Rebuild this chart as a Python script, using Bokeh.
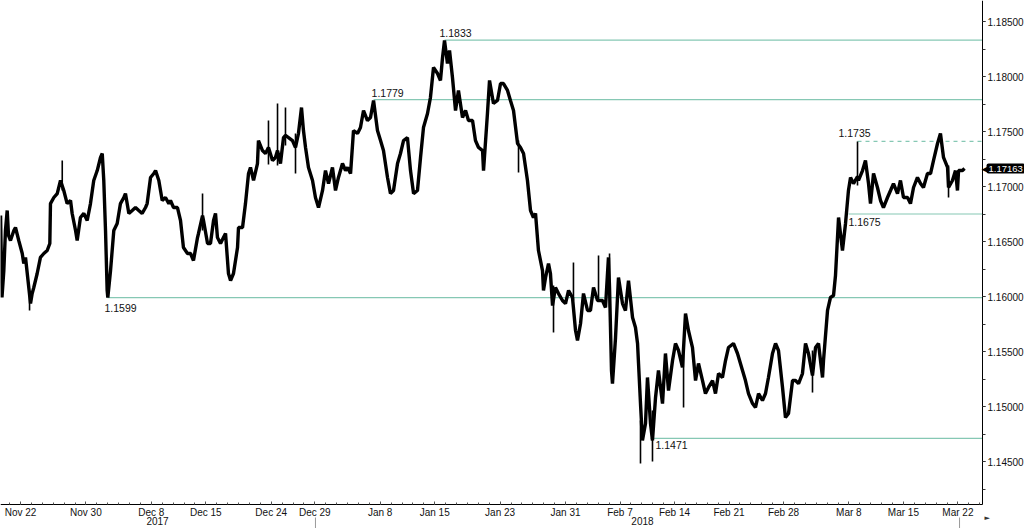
from bokeh.plotting import figure
from bokeh.models import (Range1d, FixedTicker, SingleIntervalTicker, NumeralTickFormatter,
                          Label, ColumnDataSource)
from bokeh.core.properties import value
from bokeh.embed import file_html
from bokeh.resources import INLINE

# x = trading-day index (0 = Nov 22, 2017), y = EUR/USD
nov_day = [-1.83, -1.70, -1.53, -1.38, -1.22, -1.10, -0.92, -0.61, -0.46, -0.16, 0.16, 0.30, 0.46, 0.76,
           0.92, 1.07, 1.22, 1.53, 1.83, 2.14, 2.45, 2.69, 2.75, 3.06, 3.37, 3.67, 3.97, 4.28, 4.59, 4.74,
           5.05, 5.20, 5.50, 5.81, 6.12, 6.42, 6.72, 7.04, 7.34, 7.50, 7.64, 7.80, 7.95, 8.01, 8.26, 8.56,
           8.87, 9.17, 9.48, 9.63, 9.94, 10.25, 10.55, 10.85, 11.16, 11.47, 11.62, 11.93, 12.23, 12.39,
           12.69, 13.00, 13.30, 13.61]
nov_px = [1.16736, 1.15991, 1.16236, 1.16600, 1.16782, 1.16555, 1.16509, 1.16600, 1.16627, 1.16509,
          1.16391, 1.16300, 1.16355, 1.16082, 1.15936, 1.16027, 1.16082, 1.16209, 1.16355, 1.16391,
          1.16418, 1.16482, 1.16845, 1.16900, 1.16936, 1.17055, 1.16964, 1.16845, 1.16873, 1.16755,
          1.16600, 1.16509, 1.16718, 1.16755, 1.16691, 1.16845, 1.17055, 1.17145, 1.17264, 1.17300,
          1.17055, 1.16600, 1.16055, 1.15991, 1.16236, 1.16600, 1.16664, 1.16845, 1.16900, 1.16936,
          1.16755, 1.16782, 1.16809, 1.16782, 1.16755, 1.16809, 1.16845, 1.17082, 1.17118, 1.17145,
          1.17055, 1.16873, 1.16900, 1.16845]

dec_day = [13.76, 14.04, 14.40, 14.68, 14.95, 15.32, 15.60, 15.87, 16.24, 16.33, 16.70, 16.79, 17.16,
           17.43, 17.71, 17.89, 18.07, 18.35, 18.62, 18.81, 19.08, 19.27, 19.54, 19.91, 20.00, 20.37,
           20.64, 20.92, 21.10, 21.38, 21.74, 21.83, 22.20, 22.48, 22.75, 23.12, 23.39, 23.58, 23.85,
           24.13, 24.31, 24.59, 24.95, 25.23, 25.50, 25.78, 25.96, 26.15, 26.42, 26.79, 27.06, 27.34,
           27.71, 27.98, 28.26, 28.62, 28.90, 29.17, 29.54]
dec_px = [1.16873, 1.16809, 1.16809, 1.16691, 1.16445, 1.16391, 1.16391, 1.16327, 1.16536, 1.16573,
          1.16736, 1.16691, 1.16482, 1.16482, 1.16691, 1.16755, 1.16536, 1.16482, 1.16536, 1.16573,
          1.16209, 1.16145, 1.16209, 1.16445, 1.16627, 1.16627, 1.16845, 1.17118, 1.17173, 1.17055,
          1.17209, 1.17418, 1.17327, 1.17300, 1.17355, 1.17236, 1.17264, 1.17327, 1.17209, 1.17445,
          1.17464, 1.17445, 1.17418, 1.17355, 1.17482, 1.17718, 1.17509, 1.17355, 1.17173, 1.17055,
          1.16900, 1.16809, 1.16964, 1.17145, 1.17027, 1.17173, 1.16964, 1.17082, 1.17209]

jan_day = [29.82, 30.00, 30.28, 30.55, 30.92, 31.19, 31.47, 31.83, 32.11, 32.39, 32.75, 33.03, 33.30,
           33.67, 33.94, 34.22, 34.59, 34.86, 35.14, 35.50, 35.78, 36.06, 36.42, 36.70, 36.97, 37.34,
           37.61, 37.89, 38.26, 38.53, 38.72, 38.90, 39.17, 39.36, 39.63, 39.91, 40.18, 40.55, 40.83,
           41.10, 41.47, 41.74, 42.02, 42.39, 42.48, 42.84, 43.03, 43.39, 43.76, 44.04, 44.31, 44.68,
           44.95, 45.23]
jan_px = [1.17145, 1.17173, 1.17118, 1.17509, 1.17482, 1.17536, 1.17691, 1.17600, 1.17627, 1.17782,
          1.17509, 1.17418, 1.17327, 1.17082, 1.16936, 1.16964, 1.17209, 1.17300, 1.17418, 1.17445,
          1.17145, 1.16936, 1.16964, 1.17264, 1.17536, 1.17664, 1.17809, 1.18082, 1.18027, 1.17964,
          1.18173, 1.18327, 1.18118, 1.18236, 1.17991, 1.17691, 1.17873, 1.17627, 1.17691, 1.17600,
          1.17600, 1.17418, 1.17355, 1.17327, 1.17145, 1.17664, 1.17964, 1.17755, 1.17782, 1.17936,
          1.17936, 1.17873, 1.17782, 1.17691]

feb_day = [45.60, 45.87, 46.15, 46.51, 46.79, 47.06, 47.25, 47.52, 47.89, 47.98, 48.17, 48.44, 48.62,
           48.81, 49.08, 49.36, 49.72, 50.00, 50.28, 50.64, 50.92, 51.10, 51.38, 51.65, 52.02, 52.29,
           52.57, 52.94, 53.39, 53.67, 53.94, 54.04, 54.22, 54.31, 54.59, 54.86, 55.23, 55.50, 55.78,
           56.15, 56.42, 56.61, 56.70, 56.88, 57.06, 57.34, 57.52, 57.80, 57.98, 58.26, 58.53, 58.90,
           59.17, 59.45, 59.82, 60.09, 60.37]
feb_px = [1.17391, 1.17355, 1.17300, 1.17055, 1.16782, 1.16718, 1.16755, 1.16418, 1.16236, 1.16055,
          1.16173, 1.16300, 1.16209, 1.15918, 1.16082, 1.16027, 1.15964, 1.15936, 1.16055, 1.15991,
          1.15691, 1.15600, 1.15755, 1.16027, 1.15873, 1.15873, 1.16082, 1.15964, 1.15964, 1.15900,
          1.16355, 1.16082, 1.15327, 1.15209, 1.15627, 1.16173, 1.15936, 1.15873, 1.16145, 1.15809,
          1.15718, 1.15573, 1.15391, 1.15027, 1.14691, 1.14845, 1.15264, 1.14845, 1.14691, 1.15082,
          1.15327, 1.15027, 1.15482, 1.15145, 1.15418, 1.15573, 1.15509]

late_feb_day = [60.73, 61.01, 61.28, 61.65, 61.93, 62.20, 62.57, 62.84, 63.12, 63.49, 63.76, 64.04,
                64.40, 64.68, 64.95, 65.41, 65.78, 66.24, 66.51, 66.79, 67.16, 67.43, 67.71, 68.07,
                68.35, 68.62, 68.99, 69.27, 69.54, 69.91, 70.18, 70.46, 70.83, 71.10, 71.38, 71.74,
                72.02, 72.29, 72.66, 72.94, 73.21, 73.58, 73.67, 74.04, 74.31, 74.59, 74.77, 75.05,
                75.41, 75.69, 75.96]
late_feb_px = [1.15355, 1.15845, 1.15691, 1.15536, 1.15236, 1.15391, 1.15236, 1.15118, 1.15173, 1.15236,
               1.15118, 1.15300, 1.15264, 1.15418, 1.15536, 1.15573, 1.15482, 1.15327, 1.15236, 1.15118,
               1.15027, 1.14991, 1.15118, 1.15055, 1.15118, 1.15264, 1.15482, 1.15573, 1.15509, 1.15173,
               1.14900, 1.14936, 1.15236, 1.15236, 1.15209, 1.15300, 1.15573, 1.15482, 1.15282, 1.15536,
               1.15573, 1.15264, 1.15418, 1.15873, 1.15991, 1.16009, 1.16191, 1.16718, 1.16418, 1.16664,
               1.16964]

mar_day = [76.15, 76.42, 76.79, 76.88, 77.25, 77.52, 77.80, 77.98, 78.26, 78.62, 78.90, 79.17, 79.54,
           79.82, 80.09, 80.46, 80.73, 81.01, 81.38, 81.65, 81.93, 82.29, 82.57, 82.84, 83.21, 83.49,
           83.76, 84.13, 84.40, 84.68, 85.05, 85.14, 85.50, 85.78, 85.96, 86.06, 86.42, 86.61]
mar_px = [1.17082, 1.17027, 1.17091, 1.17055, 1.17145, 1.17236, 1.17027, 1.16845, 1.17118, 1.16991,
          1.16873, 1.16809, 1.16900, 1.16964, 1.17027, 1.16936, 1.17055, 1.16900, 1.16900, 1.16845,
          1.16991, 1.17082, 1.17027, 1.16991, 1.17118, 1.17118, 1.17236, 1.17391, 1.17482, 1.17264,
          1.17173, 1.16991, 1.17055, 1.17145, 1.16964, 1.17145, 1.17145, 1.17163]

# thin intraday spikes (day, high, low)
wick_day = [0.83, 3.83, 16.70, 22.75, 23.58, 24.31, 25.23, 45.69, 48.90, 50.73, 53.03, 54.04,
            56.88, 57.98, 60.83, 72.66, 76.79, 85.14]
wick_high = [1.16055, 1.17236, 1.16936, 1.17600, 1.17755, 1.17718, 1.17482, 1.17418, 1.16100, 1.16309,
             1.16373, 1.16391, 1.14873, 1.14964, 1.15509, 1.15509, 1.17409, 1.17191]
wick_low = [1.15873, 1.16964, 1.16600, 1.17200, 1.17191, 1.17373, 1.17118, 1.17127, 1.15673, 1.15964,
            1.15964, 1.15900, 1.14482, 1.14500, 1.14991, 1.15127, 1.17009, 1.16900]

# annotated levels
level_value = [1.1833, 1.1779, 1.1741, 1.1675, 1.1599, 1.1471]
level_start = [38.90, 32.39, 76.79, 75.96, 7.98, 57.80]
level_text = ["1.1833", "1.1779", "1.1735", "1.1675", "1.1599", "1.1471"]
level_dashed = [False, False, True, False, False, False]

tick_days = [0, 6, 12, 17, 23, 27, 33, 38, 44, 50, 55, 60, 65, 70, 76, 81, 86]
tick_labels = ["Nov 22", "Nov 30", "Dec 8", "Dec 15", "Dec 24", "Dec 29", "Jan 8", "Jan 15", "Jan 23",
               "Jan 31", "Feb 7", "Feb 14", "Feb 21", "Feb 28", "Mar 8", "Mar 15", "Mar 22"]
year_labels = ["2017", "2018"]
year_centers = [12.57, 57.06]
year_bounds = [27.06, 86.15]
last_price = 1.17163

segments = [(nov_day, nov_px), (dec_day, dec_px), (jan_day, jan_px), (feb_day, feb_px),
            (late_feb_day, late_feb_px), (mar_day, mar_px)]
day, price = [], []
for d, v in segments:
    assert len(d) == len(v), (len(d), len(v))
    day += d
    price += v

# ---- styling / layout ----
FONT = "Liberation Sans"
X0, X1 = -1.835, 92.11          # whole canvas width
Y0, Y1 = 1.13891, 1.18691       # whole canvas height
X_AXIS = 88.26                  # where the price axis sits
Y_AXIS = 1.14109                # where the date axis sits
SEP_TOP = 1.13991               # top of the year separators
LEVEL_COLOR = "#86c8b4"
TXT = "#111111"

p = figure(width=1024, height=528, x_range=Range1d(X0, X1), y_range=Range1d(Y0, Y1),
           output_backend="svg", toolbar_location=None, y_axis_location="right",
           min_border_left=0, min_border_top=0, min_border_right=0, min_border_bottom=0)
p.outline_line_color = None
p.grid.visible = False
p.background_fill_color = "white"
p.border_fill_color = "white"

ya = p.yaxis[0]
ya.fixed_location = X_AXIS
ya.bounds = (Y_AXIS, Y1)
ya.ticker = SingleIntervalTicker(interval=0.005, num_minor_ticks=2)
ya.formatter = NumeralTickFormatter(format="0.00000")
ya.major_tick_in = 0
ya.major_tick_out = 3
ya.minor_tick_in = 0
ya.minor_tick_out = 3
ya.major_label_standoff = 2
ya.major_label_text_font = FONT
ya.major_label_text_font_size = "10px"
ya.major_label_text_color = TXT
ya.axis_line_color = "black"
ya.major_tick_line_color = "#333333"
ya.minor_tick_line_color = "#333333"

xa = p.xaxis[0]
xa.fixed_location = Y_AXIS
xa.bounds = (X0, X_AXIS)
xa.ticker = FixedTicker(ticks=tick_days, minor_ticks=list(range(-1, 89)))
xa.major_label_overrides = {d: l for d, l in zip(tick_days, tick_labels)}
xa.major_tick_in = 3
xa.major_tick_out = 0
xa.minor_tick_in = 2
xa.minor_tick_out = 0
xa.major_label_standoff = 2
xa.major_label_text_font = FONT
xa.major_label_text_font_size = "10px"
xa.major_label_text_color = TXT
xa.axis_line_color = "black"
xa.major_tick_line_color = "#555555"
xa.minor_tick_line_color = "#555555"

# level lines
for v, s, dashed in zip(level_value, level_start, level_dashed):
    p.segment(x0=[s], y0=[v], x1=[X_AXIS], y1=[v], line_color=LEVEL_COLOR, line_width=1.2,
              line_dash="4 4" if dashed else "solid")

# price
p.segment(x0=wick_day, y0=wick_low, x1=wick_day, y1=wick_high, line_color="black", line_width=1.6)
p.line(day, price, line_color="black", line_width=3.4, line_join="bevel")

# level labels
label_dx = [-5, -2, -19, 0, -3, 5]
label_dy = [-7, -7, -8, 8, 10, 7]
src = ColumnDataSource(dict(x=level_start, y=level_value, text=level_text, dx=label_dx, dy=label_dy))
p.text(x="x", y="y", text="text", x_offset="dx", y_offset="dy", source=src,
       text_font=value(FONT), text_font_size="10.5px", text_color=TXT,
       text_align="left", text_baseline="middle")

# year labels centred in each year's span, with boundary marks
p.text(x=year_centers, y=[Y_AXIS] * len(year_centers), text=year_labels, y_offset=16,
       text_font=value(FONT), text_font_size="10px", text_color=TXT,
       text_align="center", text_baseline="middle")
p.segment(x0=year_bounds, y0=[SEP_TOP] * 2, x1=year_bounds, y1=[Y0] * 2,
          line_color="#999999", line_width=1)
p.text(x=[X_AXIS], y=[Y_AXIS], text=["\u25ba"], x_offset=2, y_offset=13,
       text_font=value("DejaVu Sans"), text_font_size="7px", text_color="#333333",
       text_align="left", text_baseline="middle")

# last price tag
p.text(x=[X_AXIS], y=[last_price], text=["\u25c0"], x_offset=-1, y_offset=0,
       text_font=value("DejaVu Sans"), text_font_size="9px", text_color="black",
       text_align="left", text_baseline="middle")
p.add_layout(Label(x=X_AXIS, y=last_price, x_offset=4, text="1.17163", text_font=FONT,
                   text_font_size="9.5px", text_color="white", background_fill_color="black",
                   text_align="left", text_baseline="middle", padding=2, border_radius=2))

open("out.html", "w").write(file_html(p, INLINE))
